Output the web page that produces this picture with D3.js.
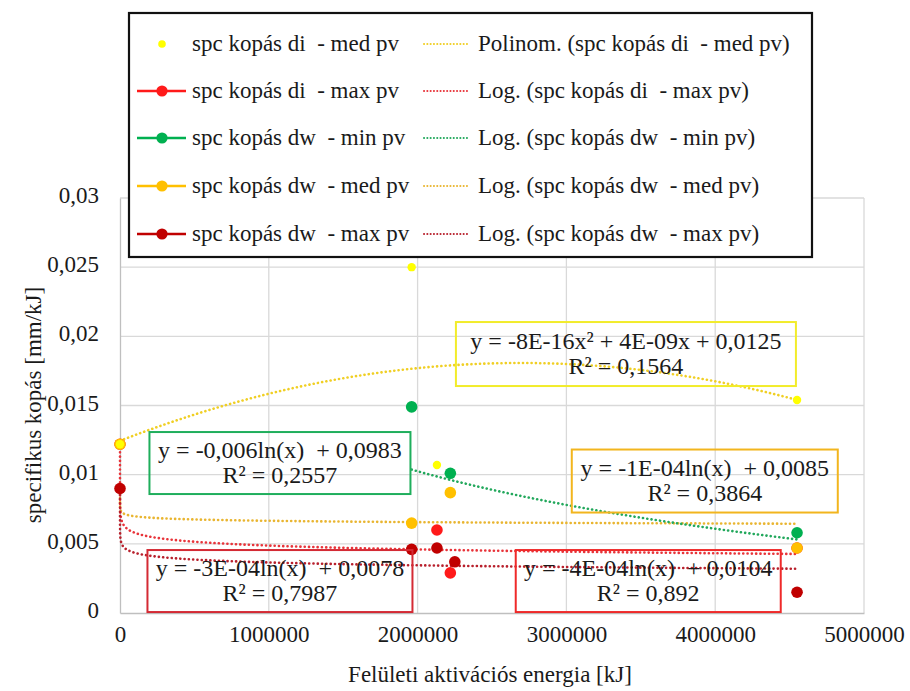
<html>
<script src='https://d3js.org/d3.v7.min.js'></script>
<style>
  body { margin: 0; background: #fff; }
  svg text { white-space: pre; }
</style>
<body onload='init()'>
<svg width=910 height=691 font-family="Liberation Serif"></svg>
<script>
// ---- data ----
var seriesNames = ["spc kopás di  - med pv", "spc kopás di  - max pv", "spc kopás dw  - min pv",
                   "spc kopás dw  - med pv", "spc kopás dw  - max pv"];
var seriesColors = ["#ffff00", "#ff1a1a", "#00b050", "#ffc000", "#c00000"];

var diMedX = [0.01, 1960000, 2130000, 4550000];
var diMedY = [0.0122, 0.0250, 0.0107, 0.0154];
var diMaxX = [0.01, 2130000, 2220000, 4550000];
var diMaxY = [0.0122, 0.0060, 0.0029, 0.0047];
var dwMinX = [1960000, 2220000, 4550000];
var dwMinY = [0.0149, 0.0101, 0.0058];
var dwMedX = [0.01, 1960000, 2220000, 4550000];
var dwMedY = [0.0122, 0.0065, 0.0087, 0.0047];
var dwMaxX = [0.01, 1960000, 2130000, 2250000, 4550000];
var dwMaxY = [0.0090, 0.0046, 0.0047, 0.0037, 0.0015];

var trendNames = ["Polinom. (spc kopás di  - med pv)", "Log. (spc kopás di  - max pv)",
                  "Log. (spc kopás dw  - min pv)", "Log. (spc kopás dw  - med pv)",
                  "Log. (spc kopás dw  - max pv)"];
var trendColors = ["#f0cf24", "#e8343a", "#22a85c", "#e9b530", "#b8202c"];
// polynomial: a*x^2 + b*x + c ; log: a*ln(x) + b   (curves as seen on the picture)
var polyCoef = [-7.75e-16, 4.175e-9, 0.01245];
var logCoefDiMax = [-0.0004, 0.0104];
var logCoefDwMin = [-0.006, 0.0973];
var logCoefDwMed = [-0.00014, 0.0086];
var logCoefDwMax = [-0.0003, 0.0078];

var eqLines = [
  ["y = -8E-16x² + 4E-09x + 0,0125", "R² = 0,1564"],
  ["y = -0,006ln(x)  + 0,0983", "R² = 0,2557"],
  ["y = -1E-04ln(x)  + 0,0085", "R² = 0,3864"],
  ["y = -3E-04ln(x)  + 0,0078", "R² = 0,7987"],
  ["y = -4E-04ln(x)  + 0,0104", "R² = 0,892"]
];
var eqColors = ["#f2ec2a", "#1fae5c", "#f2b51e", "#d42a34", "#ef2a2a"];
var eqAnchorX = [3400000, 1075000, 3930000, 1075000, 3550000];
var eqAnchorY = [0.01872, 0.01084, 0.00954, 0.00231, 0.00231];
var eqBoxW = [340, 261, 266, 265, 265];
var eqBoxH = [64, 62, 63, 62, 62];

var xTicks = [0, 1000000, 2000000, 3000000, 4000000, 5000000];
var yTicks = [0, 0.005, 0.01, 0.015, 0.02, 0.025, 0.03];

function init() {
  var svg = d3.select('svg');
  var x = d3.scaleLinear().domain([0, 5000000]).range([120, 864]);
  var y = d3.scaleLinear().domain([0, 0.03]).range([613, 198]);
  var comma = function (v) { return String(+v.toFixed(4)).replace('.', ','); };
  var FONT = 'Liberation Serif', INK = '#1a1a1a';
  var txt = function (g) { return g.append('text').attr('font-family', FONT).attr('fill', INK).attr('xml:space', 'preserve'); };

  // grid
  svg.append('g').selectAll('line').data(yTicks.slice(1)).enter().append('line')
    .attr('x1', x(0)).attr('x2', x(5000000)).attr('y1', d => y(d)).attr('y2', d => y(d))
    .attr('stroke', '#d9d9d9').attr('stroke-width', 1.3);
  svg.append('g').selectAll('line').data(xTicks.slice(1)).enter().append('line')
    .attr('y1', y(0)).attr('y2', y(0.03)).attr('x1', d => x(d)).attr('x2', d => x(d))
    .attr('stroke', '#d9d9d9').attr('stroke-width', 1.3);

  // axes
  var ax = svg.append('g').attr('transform', 'translate(0,' + y(0) + ')')
    .call(d3.axisBottom(x).tickValues(xTicks).tickSize(0).tickPadding(13).tickFormat(d3.format('d')));
  var ay = svg.append('g').attr('transform', 'translate(' + x(0) + ',0)')
    .call(d3.axisLeft(y).tickValues(yTicks).tickSize(0).tickPadding(21).tickFormat(comma));
  [ax, ay].forEach(function (g) {
    g.attr('font-family', FONT).attr('font-size', 23);
    g.select('.domain').attr('stroke', '#bfbfbf').attr('stroke-width', 1.3);
    g.selectAll('text').attr('fill', INK).attr('font-family', FONT);
  });
  ay.selectAll('text').attr('dy', '0.2em');

  txt(svg).attr('x', 490).attr('y', 682).attr('text-anchor', 'middle')
    .attr('font-size', 23).text('Felületi aktivációs energia [kJ]');
  txt(svg).attr('transform', 'translate(41,' + 405 + ') rotate(-90)').attr('text-anchor', 'middle')
    .attr('font-size', 23).text('specifikus kopás [mm/kJ]');

  // trendlines
  var line = d3.line().x(d => x(d[0])).y(d => y(d[1]));
  function logCurve(c, x0, x1) {
    var pts = [];
    d3.range(0, 61).forEach(function (i) { pts.push(x0 * Math.pow(200000 / x0, i / 60)); });
    d3.range(1, 121).forEach(function (i) { pts.push(200000 + (x1 - 200000) * i / 120); });
    if (x0 > 200000) pts = d3.range(0, 121).map(i => x0 + (x1 - x0) * i / 120);
    return pts.map(v => [v, c[0] * Math.log(v) + c[1]]);
  }
  var polyPts = d3.range(0, 121).map(function (i) {
    var v = d3.max(diMedX) * i / 120;
    return [v, polyCoef[0] * v * v + polyCoef[1] * v + polyCoef[2]];
  });
  var trends = [
    polyPts,
    logCurve(logCoefDiMax, d3.min(diMaxX), d3.max(diMaxX)),
    logCurve(logCoefDwMin, d3.min(dwMinX), d3.max(dwMinX)),
    logCurve(logCoefDwMed, d3.min(dwMedX), d3.max(dwMedX)),
    logCurve(logCoefDwMax, d3.min(dwMaxX), d3.max(dwMaxX))
  ];
  var dotted = function (sel, c) {
    sel.attr('fill', 'none').attr('stroke', c).attr('stroke-width', 2.6)
      .attr('stroke-linecap', 'round').attr('stroke-dasharray', '0.1 4.2');
  };
  [0, 3, 2, 1, 4].forEach(function (i) {
    svg.append('path').attr('d', line(trends[i])).call(dotted, trendColors[i]);
  });

  // markers
  var allX = [diMedX, diMaxX, dwMinX, dwMedX, dwMaxX];
  var allY = [diMedY, diMaxY, dwMinY, dwMedY, dwMaxY];
  [1, 2, 3, 0, 4].forEach(function (s) {
    svg.append('g').selectAll('circle').data(d3.range(allX[s].length)).enter().append('circle')
      .attr('cx', i => x(allX[s][i])).attr('cy', i => y(allY[s][i])).attr('r', s === 0 ? 4.2 : 5.8)
      .attr('fill', seriesColors[s]);
  });

  // equation boxes (transparent)
  eqLines.forEach(function (lines, i) {
    var cx = x(eqAnchorX[i]), cy = y(eqAnchorY[i]);
    svg.append('rect').attr('x', cx - eqBoxW[i] / 2).attr('y', cy - eqBoxH[i] / 2)
      .attr('width', eqBoxW[i]).attr('height', eqBoxH[i]).attr('fill', 'none')
      .attr('stroke', eqColors[i]).attr('stroke-width', 2);
    lines.forEach(function (t, k) {
      txt(svg).attr('x', cx).attr('y', cy - 5 + k * 25).attr('text-anchor', 'middle')
        .attr('font-size', 24).text(t);
    });
  });

  // legend
  var lg = svg.append('g');
  lg.append('rect').attr('x', 129).attr('y', 13).attr('width', 683).attr('height', 244)
    .attr('fill', '#fff').attr('stroke', '#111').attr('stroke-width', 2.2);
  var rowY = [44, 91, 138, 186, 234];
  seriesNames.forEach(function (n, i) {
    if (i > 0) lg.append('line').attr('x1', 137).attr('x2', 186).attr('y1', rowY[i]).attr('y2', rowY[i])
      .attr('stroke', seriesColors[i]).attr('stroke-width', 2.6);
    lg.append('circle').attr('cx', 162).attr('cy', rowY[i]).attr('r', i === 0 ? 3.8 : 5.6).attr('fill', seriesColors[i]);
    txt(lg).attr('x', 192).attr('y', rowY[i] + 7).attr('font-size', 23).text(n);
  });
  trendNames.forEach(function (n, i) {
    lg.append('line').attr('x1', 424).attr('x2', 470).attr('y1', rowY[i]).attr('y2', rowY[i])
      .call(dotted, trendColors[i]).attr('stroke-width', 2).attr('stroke-dasharray', '0.1 3.2');
    txt(lg).attr('x', 478).attr('y', rowY[i] + 7).attr('font-size', 23).text(n);
  });
}
</script>
</body>
</html>
